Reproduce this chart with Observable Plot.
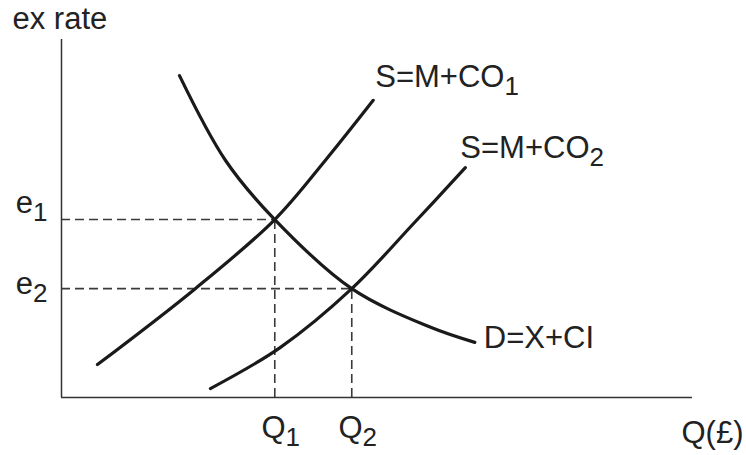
<!DOCTYPE html>
<html><head><meta charset="utf-8">
<script src="https://cdn.jsdelivr.net/npm/d3@7"></script>
<script src="https://cdn.jsdelivr.net/npm/@observablehq/plot@0.6"></script>
<style>body{margin:0;background:#fff} svg{display:block}</style>
</head><body><div id="chart"></div>
<script>
// Curve points (quantity, exchange rate) in abstract units 0–100
const supply1Q = [5.7, 21.2, 33.8, 41.8, 49.4];
const supply1E = [9.2, 30.4, 49.7, 66.2, 83.0];
const supply2Q = [23.6, 34.7, 46.0, 55.8, 64.0];
const supply2E = [2.5, 14.0, 30.4, 48.6, 64.2];
const demandQ  = [18.7, 26.0, 33.8, 46.0, 58.5, 65.5];
const demandE  = [89.9, 66.2, 49.7, 30.4, 19.6, 15.4];
// Equilibria
const eqQ = [33.8, 46.0];
const eqE = [49.7, 30.4];
const eqRateLabels = ["e_1", "e_2"];
const eqQtyLabels = ["Q_1", "Q_2"];
const curveLabels = ["S=M+CO_1", "S=M+CO_2", "D=X+CI"];

const rows = (qs, es, name) => qs.map((q, i) => ({q, e: es[i], name}));
const s1 = rows(supply1Q, supply1E, curveLabels[0]);
const s2 = rows(supply2Q, supply2E, curveLabels[1]);
const dd = rows(demandQ, demandE, curveLabels[2]);
const eq = eqQ.map((q, i) => ({q, e: eqE[i], rl: eqRateLabels[i], ql: eqQtyLabels[i]}));

const font = 31;
const txt = {fontSize: font, fill: "#222", stroke: null};
const curveStyle = {x: "q", y: "e", curve: "catmull-rom", stroke: "#1a1a1a", strokeWidth: 3.2};
const dash = {stroke: "#3a3a3a", strokeWidth: 1.6, strokeDasharray: "9,5"};

const chart = Plot.plot({
  width: 746, height: 455,
  marginLeft: 61, marginRight: 54, marginTop: 39, marginBottom: 58,
  x: {domain: [0, 100], axis: null},
  y: {domain: [0, 100], axis: null},
  style: {fontFamily: "'Liberation Sans', Arial, sans-serif", background: "#fff"},
  marks: [
    Plot.ruleY(eq, {y: "e", x1: 0, x2: "q", ...dash}),
    Plot.ruleX(eq, {x: "q", y1: 0, y2: "e", ...dash}),
    Plot.ruleY([0], {x1: 0, x2: 100, stroke: "#333", strokeWidth: 1.5}),
    Plot.ruleX([0], {y1: 0, y2: 100, stroke: "#333", strokeWidth: 1.5}),
    Plot.line(s1, curveStyle),
    Plot.line(s2, curveStyle),
    Plot.line(dd, curveStyle),
    // curve labels anchored at the curve ends
    Plot.text([s1[s1.length - 1]], {x: "q", y: "e", text: "name", textAnchor: "start", dx: 2, dy: -23, ...txt}),
    Plot.text([s2[s2.length - 1]], {x: "q", y: "e", text: "name", textAnchor: "start", dx: -5, dy: -20, ...txt}),
    Plot.text([dd[dd.length - 1]], {x: "q", y: "e", text: "name", textAnchor: "start", dx: 9, dy: -4, ...txt}),
    // rate labels on the y axis
    Plot.text([eq[0]], {x: 0, y: "e", text: "rl", textAnchor: "end", dx: -14, dy: -16, ...txt}),
    Plot.text([eq[1]], {x: 0, y: "e", text: "rl", textAnchor: "end", dx: -14, dy: -5, ...txt}),
    // quantity labels
    Plot.text(eq, {x: "q", y: 0, text: "ql", textAnchor: "middle", dx: 6, dy: 31, ...txt}),
    // axis titles
    Plot.text(["ex rate"], {x: 0, y: 100, text: d => d, textAnchor: "start", dx: -49, dy: -20, ...txt}),
    Plot.text(["Q(£)"], {x: 100, y: 0, text: d => d, textAnchor: "end", dx: 51, dy: 36, ...txt})
  ]
});

// render subscripts
d3.select(chart).selectAll("text").each(function () {
  const t = this.textContent;
  if (t.includes("_")) {
    const [a, b] = t.split("_");
    const sel = d3.select(this);
    sel.text(null);
    sel.append("tspan").text(a);
    sel.append("tspan").attr("font-size", Math.round(font * 0.85)).attr("dy", 8).text(b);
  }
});

document.getElementById("chart").appendChild(chart);
</script>
</body></html>
